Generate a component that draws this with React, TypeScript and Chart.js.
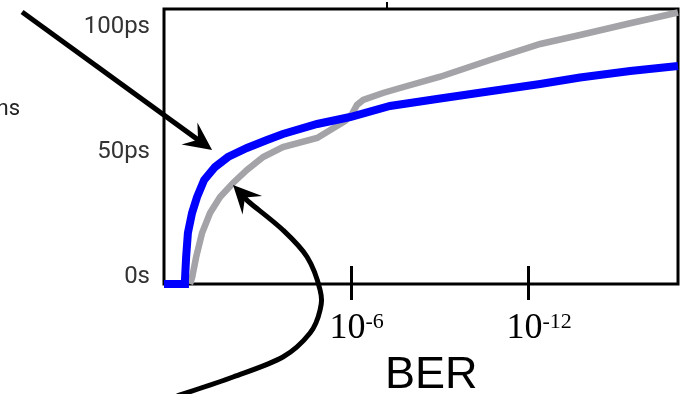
import { useEffect, useRef } from "react";
import { Chart, registerables } from "chart.js";

Chart.register(...registerables);

// Horizontal axis: BER exponent (a value n stands for BER = 10^-n)
const berMin = -0.34;
const berMax = 17.08;
const berTicks = [6, 12];
const berTickBase = ["10", "10"];
const berTickPower = ["-6", "-12"];
const topTickBer = [7.22];

// Vertical axis: jitter
const jitterMax = 110;
const jitterTicks = [0, 50, 100];
const jitterTickLabels = ["0s", "50ps", "100ps"];

// Blue curve
const blueBer = [-0.34, 0.34, 0.37, 0.41, 0.47, 0.61, 0.78, 1.02, 1.39, 1.83, 2.47, 3.15, 3.69, 4.85, 5.97, 7.32, 9.02, 10.71, 12.41, 13.76, 15.46, 17.08];
const blueJitter = [0, 0, 1.6, 10.8, 20.4, 28.4, 34.8, 41.6, 46.8, 50.8, 54.4, 57.6, 60.0, 64.0, 66.8, 71.2, 74.2, 77.1, 80.0, 82.6, 85.2, 87.2];

// Gray curve
const grayBer = [0.54, 0.61, 0.75, 0.95, 1.22, 1.56, 2.0, 2.47, 3.02, 3.69, 4.85, 5.8, 6.03, 6.2, 6.41, 7.08, 7.66, 9.02, 10.71, 12.41, 13.76, 15.46, 17.08];
const grayJitter = [0, 2.4, 10.8, 20.4, 28.4, 34.8, 40.4, 45.6, 50.8, 54.8, 58.4, 65.2, 68.0, 71.6, 73.6, 76.4, 78.4, 82.9, 89.6, 96.0, 99.6, 104.3, 108.6];

// Callout arrows, in axis units
const arrowOneBer = [-5.15, 1.29];
const arrowOneJitter = [108.8, 53.6];
const arrowTwoBer = [0.1, 2.0, 3.69, 4.61, 4.95, 4.95, 4.51, 3.69, 2.58, 2.0];
const arrowTwoJitter = [-44.8, -37.2, -29.2, -19.6, -10.4, -2.4, 10.8, 21.6, 32.4, 39.6];

type Pt = { x: number; y: number };

const toPx = (chart: any, ber: number, jitter: number): Pt => ({
  x: chart.scales.x.getPixelForValue(ber),
  y: chart.scales.y.getPixelForValue(jitter),
});

function drawHead(ctx: CanvasRenderingContext2D, tip: Pt, from: Pt, len: number, half: number): Pt {
  const dx0 = tip.x - from.x;
  const dy0 = tip.y - from.y;
  const d = Math.hypot(dx0, dy0) || 1;
  const dx = dx0 / d;
  const dy = dy0 / d;
  const nx = -dy;
  const ny = dx;
  ctx.beginPath();
  ctx.moveTo(tip.x, tip.y);
  ctx.lineTo(tip.x - dx * len + nx * half, tip.y - dy * len + ny * half);
  ctx.lineTo(tip.x - dx * len * 0.62, tip.y - dy * len * 0.62);
  ctx.lineTo(tip.x - dx * len - nx * half, tip.y - dy * len - ny * half);
  ctx.closePath();
  ctx.fill();
  return { x: tip.x - dx * len * 0.6, y: tip.y - dy * len * 0.6 };
}

function strokeSpline(ctx: CanvasRenderingContext2D, pts: Pt[]) {
  ctx.beginPath();
  ctx.moveTo(pts[0].x, pts[0].y);
  for (let i = 0; i < pts.length - 1; i++) {
    const p0 = pts[Math.max(i - 1, 0)];
    const p1 = pts[i];
    const p2 = pts[i + 1];
    const p3 = pts[Math.min(i + 2, pts.length - 1)];
    ctx.bezierCurveTo(
      p1.x + (p2.x - p0.x) / 6,
      p1.y + (p2.y - p0.y) / 6,
      p2.x - (p3.x - p1.x) / 6,
      p2.y - (p3.y - p1.y) / 6,
      p2.x,
      p2.y
    );
  }
  ctx.stroke();
}

const frame = {
  id: "frame",
  beforeDatasetsDraw(chart: any) {
    const { ctx, chartArea: a } = chart;
    ctx.save();
    ctx.strokeStyle = "#000";
    ctx.lineWidth = 3;
    ctx.strokeRect(a.left, a.top, a.right - a.left, a.bottom - a.top);
    ctx.restore();
  },
  afterDraw(chart: any) {
    const { ctx, chartArea: a } = chart;
    const xs = chart.scales.x;
    ctx.save();

    // tick marks across the bottom edge and labels in powers of ten
    ctx.strokeStyle = "#000";
    ctx.lineWidth = 3;
    berTicks.forEach((t, i) => {
      const x = Math.round(xs.getPixelForValue(t)) + 0.5;
      ctx.beginPath();
      ctx.moveTo(x, a.bottom - 18);
      ctx.lineTo(x, a.bottom + 16);
      ctx.stroke();

      const left = x - 22;
      ctx.fillStyle = "#000";
      ctx.textBaseline = "alphabetic";
      ctx.textAlign = "left";
      ctx.font = '36px "Liberation Serif", serif';
      ctx.fillText(berTickBase[i], left, a.bottom + 54);
      const w = ctx.measureText(berTickBase[i]).width;
      ctx.font = '22px "Liberation Serif", serif';
      ctx.fillText(berTickPower[i], left + w, a.bottom + 44);
    });

    ctx.lineWidth = 2;
    topTickBer.forEach((t) => {
      const x = Math.round(xs.getPixelForValue(t));
      ctx.beginPath();
      ctx.moveTo(x, a.top);
      ctx.lineTo(x, a.top - 7);
      ctx.stroke();
    });

    // axis title
    ctx.fillStyle = "#000";
    ctx.font = '45px "Liberation Sans", Arial, sans-serif';
    ctx.textAlign = "left";
    ctx.textBaseline = "alphabetic";
    ctx.fillText("BER", 385, 388);

    ctx.fillStyle = "#222";
    ctx.font = "22px Roboto, sans-serif";
    ctx.textAlign = "right";
    ctx.fillText("ns", 20, 115);

    // callout arrows
    ctx.fillStyle = "#000";
    ctx.strokeStyle = "#000";
    ctx.lineCap = "butt";
    ctx.lineJoin = "round";

    const tail = toPx(chart, arrowOneBer[0], arrowOneJitter[0]);
    const tip = toPx(chart, arrowOneBer[1], arrowOneJitter[1]);
    const base = drawHead(ctx, tip, tail, 28, 13.5);
    ctx.lineWidth = 5;
    ctx.beginPath();
    ctx.moveTo(tail.x, tail.y);
    ctx.lineTo(base.x, base.y);
    ctx.stroke();

    const pts = arrowTwoBer.map((b, i) => toPx(chart, b, arrowTwoJitter[i]));
    const tip2 = pts[pts.length - 1];
    const base2 = drawHead(ctx, tip2, pts[pts.length - 2], 28, 13.5);
    ctx.lineWidth = 5;
    strokeSpline(ctx, [...pts.slice(0, -1), base2]);

    ctx.restore();
  },
};

export default function App() {
  const canvasRef = useRef<HTMLCanvasElement | null>(null);

  useEffect(() => {
    if (!canvasRef.current) return;
    const chart = new Chart(canvasRef.current, {
      type: "line",
      data: {
        datasets: [
          {
            label: "blue",
            data: blueBer.map((b, i) => ({ x: b, y: blueJitter[i] })),
            borderColor: "#0000ff",
            borderWidth: 8,
            pointRadius: 0,
            tension: 0,
            fill: false,
            clip: false as any,
          },
          {
            label: "gray",
            data: grayBer.map((b, i) => ({ x: b, y: grayJitter[i] })),
            borderColor: "#a3a3a8",
            borderWidth: 6.5,
            pointRadius: 0,
            tension: 0,
            fill: false,
            clip: false as any,
          },
        ],
      },
      options: {
        animation: false,
        responsive: true,
        maintainAspectRatio: false,
        layout: { padding: { top: 9, right: 6, bottom: 110, left: 0 } },
        plugins: { legend: { display: false }, tooltip: { enabled: false } },
        scales: {
          x: { type: "linear", min: berMin, max: berMax, display: false },
          y: {
            type: "linear",
            min: 0,
            max: jitterMax,
            afterFit: (s: any) => {
              s.width = 164;
              s.paddingTop = 0;
              s.paddingBottom = 0;
            },
            afterBuildTicks: (s: any) => {
              s.ticks = jitterTicks.map((value) => ({ value }));
            },
            grid: { display: false, drawTicks: false },
            border: { display: false },
            ticks: {
              padding: 14,
              labelOffset: -7,
              color: "#333",
              font: { family: "Roboto", size: 24 },
              callback: (v: any) => jitterTickLabels[jitterTicks.indexOf(Number(v))] ?? "",
            },
          },
        },
      },
      plugins: [frame],
    });
    return () => chart.destroy();
  }, []);

  return (
    <div style={{ position: "absolute", left: 0, top: 0, width: 684, height: 394, background: "#fff" }}>
      <canvas ref={canvasRef} />
    </div>
  );
}
